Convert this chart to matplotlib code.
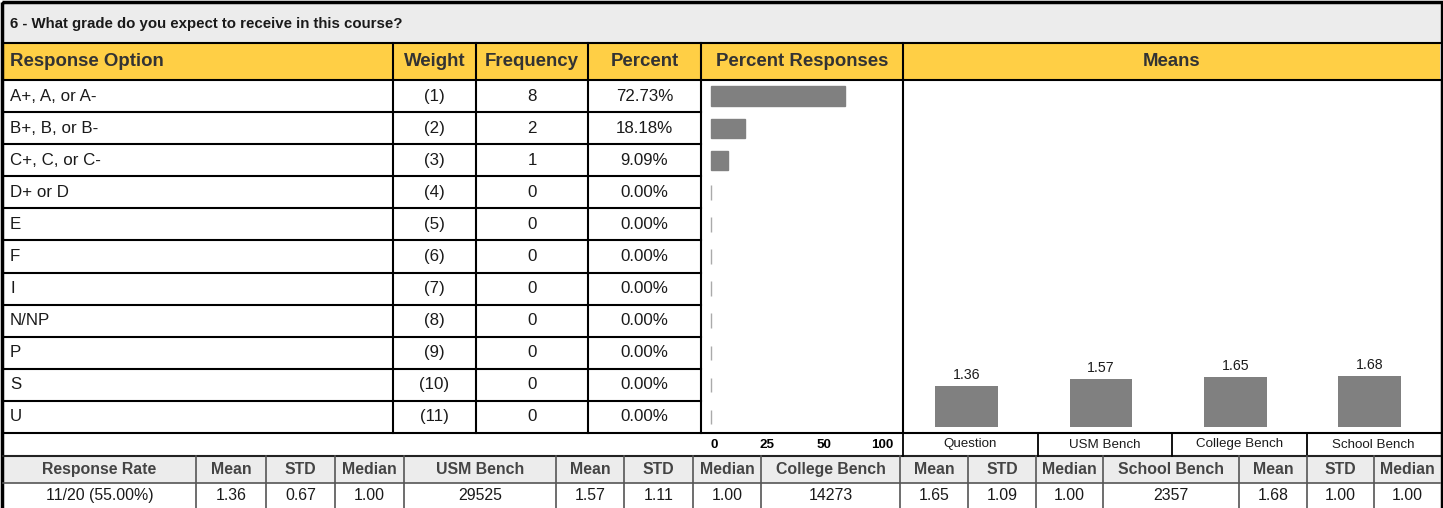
import matplotlib
matplotlib.use("Agg")
import matplotlib.pyplot as plt
from matplotlib.patches import Rectangle

plt.rcParams['font.family'] = ['Liberation Sans', 'DejaVu Sans']

# ---------------- data ----------------
title = "6 - What grade do you expect to receive in this course?"
header_labels = ["Response Option", "Weight", "Frequency", "Percent", "Percent Responses", "Means"]
options = ["A+, A, or A-", "B+, B, or B-", "C+, C, or C-", "D+ or D", "E", "F", "I", "N/NP", "P", "S", "U"]
weights = [1, 2, 3, 4, 5, 6, 7, 8, 9, 10, 11]
frequencies = [8, 2, 1, 0, 0, 0, 0, 0, 0, 0, 0]
percents = [72.73, 18.18, 9.09, 0, 0, 0, 0, 0, 0, 0, 0]
pct_tick_labels = ["0", "25", "50", "100"]
mean_categories = ["Question", "USM Bench", "College Bench", "School Bench"]
mean_values = [1.36, 1.57, 1.65, 1.68]

response_rate = "11/20 (55.00%)"
question_stats = ["1.36", "0.67", "1.00"]
bench_names = ["USM Bench", "College Bench", "School Bench"]
bench_counts = ["29525", "14273", "2357"]
bench_means = ["1.57", "1.65", "1.68"]
bench_stds = ["1.11", "1.09", "1.00"]
bench_medians = ["1.00", "1.00", "1.00"]

# ---------------- layout ----------------
W, H = 1443, 508
fig = plt.figure(figsize=(W / 100, H / 100), dpi=100)
ax = fig.add_axes([0, 0, 1, 1])
ax.set_xlim(0, W)
ax.set_ylim(H, 0)
ax.axis('off')

YELLOW = '#ffcf45'
GRAYBG = '#ececec'
TXT = '#1a1a1a'
HDR = '#333333'

y_title0, y_hdr0, y_rows0, y_axis0, y_bh0, y_bv0, y_end = 3, 43, 80, 433, 456, 483, 508
x_left, x_right = 3, 1440
col_x = [x_left, 393, 476, 588, 701, 903, x_right]
n = len(options)
row_h = (y_axis0 - y_rows0) / n

# backgrounds
ax.add_patch(Rectangle((x_left, y_title0), x_right - x_left, y_hdr0 - y_title0, color=GRAYBG, lw=0))
ax.add_patch(Rectangle((x_left, y_hdr0), x_right - x_left, y_rows0 - y_hdr0, color=YELLOW, lw=0))
ax.add_patch(Rectangle((x_left, y_bh0), x_right - x_left, y_bv0 - y_bh0, color=GRAYBG, lw=0))

# title
ax.text(10, (y_title0 + y_hdr0) / 2 + 1, title, fontsize=10.8, fontweight='bold', color=TXT, va='center', ha='left')

# header
hy = (y_hdr0 + y_rows0) / 2
for i, lab in enumerate(header_labels):
    if i == 0:
        ax.text(10, hy, lab, fontsize=13.4, fontweight='bold', color=HDR, va='center', ha='left')
    else:
        ax.text((col_x[i] + col_x[i + 1]) / 2, hy, lab, fontsize=13.4, fontweight='bold', color=HDR, va='center', ha='center')

# data rows text
for r in range(n):
    cy = y_rows0 + (r + 0.5) * row_h
    ax.text(10, cy, options[r], fontsize=12.2, color=TXT, va='center', ha='left')
    ax.text((col_x[1] + col_x[2]) / 2, cy, f"({weights[r]})", fontsize=12.2, color=TXT, va='center', ha='center')
    ax.text((col_x[2] + col_x[3]) / 2, cy, f"{frequencies[r]}", fontsize=12.2, color=TXT, va='center', ha='center')
    ax.text((col_x[3] + col_x[4]) / 2, cy, f"{percents[r]:.2f}%", fontsize=12.2, color=TXT, va='center', ha='center')

# horizontal lines top table
ax.plot([x_left, x_right], [y_hdr0, y_hdr0], color='black', lw=1.5)
ax.plot([x_left, x_right], [y_rows0, y_rows0], color='black', lw=1.5)
for r in range(1, n):
    yy = y_rows0 + r * row_h
    ax.plot([x_left, col_x[4]], [yy, yy], color='black', lw=1.5)
ax.plot([x_left, x_right], [y_axis0, y_axis0], color='black', lw=1.5)
ax.plot([x_left, x_right], [y_bh0, y_bh0], color='#222222', lw=1.5)
ax.plot([x_left, x_right], [y_bv0, y_bv0], color='#555555', lw=1.2)

# vertical lines top table
for xx in col_x[1:6]:
    ax.plot([xx, xx], [y_hdr0, y_axis0], color='black', lw=1.5)

# axis row: percent ticks and mean categories
pct_tick_x = [714, 767, 824, 882]
ay = (y_axis0 + y_bh0) / 2
for lab, xx in zip(pct_tick_labels, pct_tick_x):
    ax.text(xx, ay, lab, fontsize=9.6, fontweight='bold', color='black', va='center', ha='center')
mean_col_x = [903, 1038, 1172, 1307, x_right]
for i, lab in enumerate(mean_categories):
    ax.text((mean_col_x[i] + mean_col_x[i + 1]) / 2, ay, lab, fontsize=9.6, color=TXT, va='center', ha='center')
for xx in mean_col_x[:-1]:
    ax.plot([xx, xx], [y_axis0, y_bh0], color='black', lw=1.3)

# bottom table
bottom_headers = ["Response Rate", "Mean", "STD", "Median"]
bottom_values = [response_rate] + question_stats
for b in range(len(bench_names)):
    bottom_headers += [bench_names[b], "Mean", "STD", "Median"]
    bottom_values += [bench_counts[b], bench_means[b], bench_stds[b], bench_medians[b]]
bcol_x = [x_left, 196, 266, 335, 404, 556, 624, 693, 761, 900, 968, 1036, 1103, 1239, 1307, 1374, x_right]
for i in range(len(bottom_headers)):
    cx = (bcol_x[i] + bcol_x[i + 1]) / 2
    ax.text(cx, (y_bh0 + y_bv0) / 2, bottom_headers[i], fontsize=11.4, fontweight='bold', color='#444444', va='center', ha='center')
    ax.text(cx, (y_bv0 + y_end) / 2, bottom_values[i], fontsize=11.4, color=TXT, va='center', ha='center')
for xx in bcol_x[1:-1]:
    ax.plot([xx, xx], [y_bh0, y_end], color='#555555', lw=1.2)

# outer border
ax.add_patch(Rectangle((1.5, 1.5), W - 3, H + 2, fill=False, edgecolor='black', lw=2.5))


def fig_box(x0, y0, x1, y1):
    return [x0 / W, 1 - y1 / H, (x1 - x0) / W, (y1 - y0) / H]

# percent responses bars
axp = fig.add_axes(fig_box(col_x[4], y_rows0, col_x[5], y_axis0))
axp.patch.set_alpha(0)
ypos = list(range(n))
heights = [0.6 if v > 0 else 0.45 for v in percents]
edges = ['#808080' if v > 0 else '#aaaaaa' for v in percents]
axp.barh(ypos, percents, height=heights, left=0, color='#808080', edgecolor=edges, linewidth=1)
axp.set_xlim(-5.7, 104.1)
axp.set_ylim(n - 0.5, -0.5)
axp.axis('off')

# means bars
axm = fig.add_axes(fig_box(903, y_rows0, x_right, y_axis0))
axm.patch.set_alpha(0)
bars = axm.bar(range(len(mean_values)), mean_values, width=0.467, color='#808080')
axm.bar_label(bars, labels=[f"{v:.2f}" for v in mean_values], padding=3, fontsize=10.2, color=TXT)
axm.set_xlim(-0.475, 3.525)
axm.set_ylim(-0.186, 11.35)
axm.axis('off')

fig.savefig("out.png", dpi=100)
